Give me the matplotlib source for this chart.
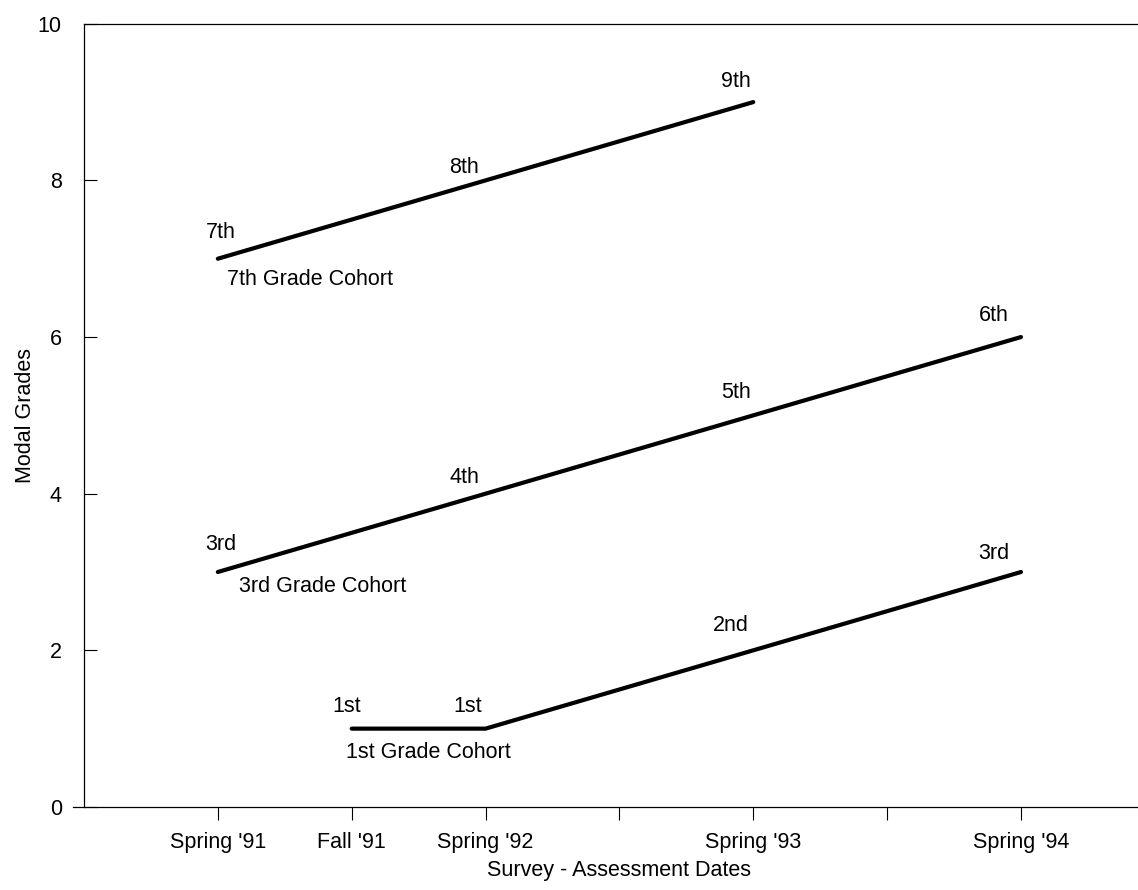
import matplotlib
matplotlib.use('Agg')
import matplotlib.pyplot as plt

plt.rcParams['font.family'] = ['Liberation Sans', 'DejaVu Sans']
plt.rcParams['font.size'] = 15.5

# x positions are half-year steps from Spring '91
tick_pos = [0, 1, 2, 3, 4, 5, 6]
tick_labels = ["Spring '91", "Fall '91", "Spring '92", "", "Spring '93", "", "Spring '94"]

# cohorts: survey positions and modal grades
c7_x = [0, 2, 4]
c7_y = [7, 8, 9]
c7_lbl = ['7th', '8th', '9th']

c3_x = [0, 2, 4, 6]
c3_y = [3, 4, 5, 6]
c3_lbl = ['3rd', '4th', '5th', '6th']

c1_x = [1, 2, 4, 6]
c1_y = [1, 1, 2, 3]
c1_lbl = ['1st', '1st', '2nd', '3rd']

# label offsets (data units) relative to each point
c7_off = [(0.02, 0.33), (-0.16, 0.17), (-0.13, 0.26)]
c3_off = [(0.02, 0.35), (-0.16, 0.21), (-0.13, 0.29), (-0.20, 0.28)]
c1_off = [(-0.04, 0.28), (-0.13, 0.28), (-0.17, 0.32), (-0.20, 0.24)]

cohorts = [
    (c7_x, c7_y, c7_lbl, c7_off, '7th Grade Cohort', (0.69, 6.73)),
    (c3_x, c3_y, c3_lbl, c3_off, '3rd Grade Cohort', (0.78, 2.81)),
    (c1_x, c1_y, c1_lbl, c1_off, '1st Grade Cohort', (1.57, 0.69)),
]

fig = plt.figure(figsize=(11.38, 8.9), dpi=100)
ax = fig.add_axes([0.0738, 0.0933, 0.941, 0.880])

for xs, ys, lbls, offs, name, name_pos in cohorts:
    ax.plot(xs, ys, color='black', lw=3, solid_capstyle='round')
    for x, y, t, (dx, dy) in zip(xs, ys, lbls, offs):
        ax.text(x + dx, y + dy, t, ha='center', va='center')
    ax.text(name_pos[0], name_pos[1], name, ha='center', va='center')

ax.set_xlim(-1, 7)
ax.set_ylim(0, 10)
ax.set_xticks(tick_pos)
ax.set_xticklabels(tick_labels)
ax.set_yticks([0, 2, 4, 6, 8, 10])

ax.tick_params(axis='x', direction='out', length=9, width=0.8, pad=9)
ax.tick_params(axis='y', direction='in', length=9, width=0.8, pad=16)

ax.spines['right'].set_visible(False)
for s in ['top', 'bottom', 'left']:
    ax.spines[s].set_linewidth(0.9)
ax.spines['bottom'].set_bounds(-1.08, 7)

ax.set_xlabel('Survey - Assessment Dates', labelpad=5)
ax.set_ylabel('Modal Grades', labelpad=1)

fig.savefig('out.png', dpi=100)
